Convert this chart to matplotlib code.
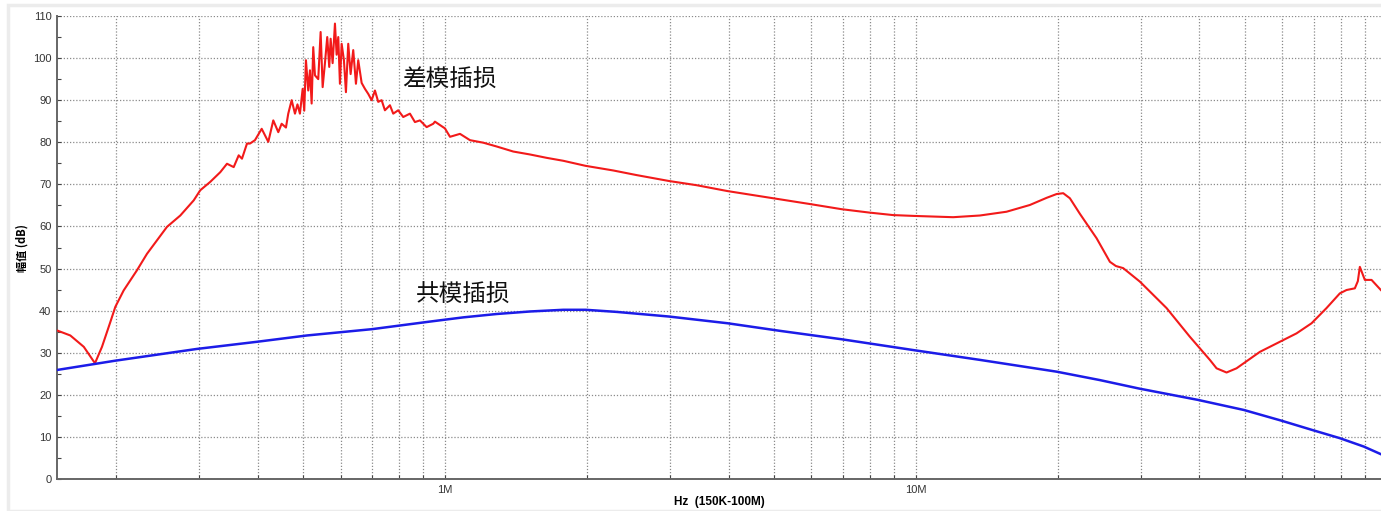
import matplotlib
matplotlib.use("Agg")
import matplotlib.pyplot as plt
from matplotlib.patches import Rectangle
from matplotlib.ticker import FixedLocator, NullFormatter, MultipleLocator

# differential mode insertion loss (kHz, dB)
dm_freq_khz = [
    150.0, 160.1, 171.0, 180.6, 186.9, 194.7, 199.5, 207.8, 221.8, 232.9,
    256.8, 274.1, 292.7, 302.2, 317.4, 333.3, 344.4, 355.9, 364.7, 370.6,
    379.8, 385.4, 394.9, 408.1, 421.5, 431.9, 442.6, 449.9, 459.5, 464.7,
    472.5, 480.2, 486.1, 492.0, 498.6, 502.5, 506.7, 512.4, 516.7, 521.0,
    525.1, 529.5, 538.1, 544.4, 549.8, 556.0, 562.3, 567.8, 571.7, 577.3,
    583.9, 588.7, 593.4, 598.3, 603.3, 610.1, 616.1, 623.1, 630.4, 638.5,
    647.0, 654.3, 665.3, 676.1, 687.1, 698.6, 710.0, 721.5, 733.6, 745.5,
    764.0, 776.4, 795.6, 815.3, 842.5, 863.3, 884.7, 914.2, 944.2, 952.0,
    975.6, 999.7, 1024.8, 1076.1, 1130.0, 1206.1, 1287.3, 1396.4, 1515.5,
    1644.2, 1783.5, 1989.0, 2277.0, 2553.0, 2989.4, 3422.7, 3982.9, 4977.6,
    5976.2, 6955.2, 7958.8, 8948.4, 9917.2, 11999.0, 13673.0, 15578.0,
    17459.0, 18948.0, 19898.0, 20551.0, 21233.0, 22298.0, 24193.0, 25821.0,
    26589.0, 27554.0, 29894.0, 34068.0, 38170.0, 42095.0, 43497.0, 45675.0,
    47963.0, 53745.0, 59272.0, 64316.0, 69218.0, 74456.0, 79481.0, 82128.0,
    85529.0, 86793.0, 87648.0, 89815.0, 92808.0, 97130.0,
]
dm_db = [
    35.3, 34.1, 31.4, 27.5, 31.4, 37.3, 40.9, 44.8, 49.6, 53.5,
    59.9, 62.6, 66.2, 68.6, 70.6, 72.9, 74.9, 74.1, 76.9, 76.1,
    79.7, 79.7, 80.5, 83.2, 80.1, 85.2, 82.4, 84.4, 83.5, 86.8,
    90.0, 86.8, 89.0, 86.8, 92.7, 87.5, 99.5, 92.3, 97.1, 89.2,
    102.6, 95.9, 95.0, 106.2, 93.1, 98.8, 105.0, 97.9, 104.6, 98.8,
    108.2, 100.8, 105.0, 93.9, 103.4, 99.5, 91.9, 103.4, 96.2, 101.9,
    93.9, 99.5, 94.1, 92.7, 91.5, 90.0, 92.3, 89.6, 90.0, 87.6,
    88.8, 86.8, 87.6, 86.0, 86.8, 84.8, 85.2, 83.6, 84.4, 84.9,
    84.1, 83.3, 81.3, 82.0, 80.5, 79.9, 79.0, 77.8, 77.1,
    76.3, 75.6, 74.4, 73.3, 72.2, 70.8, 69.8, 68.4, 66.7,
    65.3, 64.1, 63.3, 62.7, 62.5, 62.2, 62.6, 63.5,
    65.1, 66.8, 67.7, 67.9, 66.7, 63.0, 57.2, 51.6,
    50.6, 50.1, 46.9, 40.6, 33.8, 28.3, 26.3, 25.3,
    26.3, 30.2, 32.6, 34.6, 37.0, 40.6, 44.1, 44.9,
    45.3, 47.0, 50.4, 47.3, 47.3, 44.9,
]

# common mode insertion loss (kHz, dB)
cm_freq_khz = [
    150.0, 199.2, 297.3, 398.8, 509.2, 700.0, 929.0, 1093.5, 1287.3, 1515.5,
    1783.5, 1989.0, 2315.2, 2989.4, 3982.9, 5143.4, 6955.2, 9917.2, 13673.0,
    19898.0, 24587.0, 29750.0, 39690.0, 49710.0, 59560.0, 69660.0, 79480.0,
    89380.0, 97130.0,
]
cm_db = [
    25.9, 28.1, 30.9, 32.6, 34.1, 35.6, 37.4, 38.4, 39.2, 39.8,
    40.2, 40.2, 39.7, 38.6, 37.0, 35.2, 33.2, 30.6, 28.3,
    25.5, 23.5, 21.5, 18.8, 16.4, 13.9, 11.6, 9.7,
    7.7, 5.9,
]

major_ticks = [1e6, 1e7]
major_labels = ["1M", "10M"]
grid_ticks = [2e5, 3e5, 4e5, 5e5, 6e5, 7e5, 8e5, 9e5, 1e6,
              2e6, 3e6, 4e6, 5e6, 6e6, 7e6, 8e6, 9e6, 1e7,
              2e7, 3e7, 4e7, 5e7, 6e7, 7e7, 8e7, 9e7]

plt.rcParams['font.family'] = ['Liberation Sans', 'Noto Sans CJK SC', 'DejaVu Sans']

fig = plt.figure(figsize=(13.81, 5.11), dpi=100)
# light panel frame behind everything
fig.patches.append(Rectangle((8 / 1381, 0), 1.0, 506 / 511, transform=fig.transFigure,
                             facecolor="white", edgecolor="#ececec", linewidth=2.5, zorder=-10))
ax = fig.add_axes([57 / 1381, 32 / 511, 1324 / 1381, 463 / 511])
ax.set_facecolor("none")

ax.plot([f * 1e3 for f in dm_freq_khz], dm_db, color="#f21a1a", linewidth=1.5, zorder=3)
ax.plot([f * 1e3 for f in cm_freq_khz], cm_db, color="#1c1ce8", linewidth=1.8, zorder=3)

ax.set_xscale("log")
ax.set_xlim(150e3, 97.2e6)
ax.set_ylim(0, 110)

ax.xaxis.set_major_locator(FixedLocator(major_ticks))
ax.set_xticklabels(major_labels)
ax.xaxis.set_minor_locator(FixedLocator(grid_ticks))
ax.xaxis.set_minor_formatter(NullFormatter())
ax.yaxis.set_major_locator(MultipleLocator(10))
ax.yaxis.set_minor_locator(MultipleLocator(5))

ax.grid(True, which="both", axis="x", linestyle=(0, (1, 1.5)), color="#8a8a8a", linewidth=0.9)
ax.grid(True, which="major", axis="y", linestyle=(0, (1, 1.5)), color="#8a8a8a", linewidth=0.9)

ax.tick_params(axis="both", which="both", direction="in", length=3, width=0.8,
               colors="#444444", labelsize=8, labelcolor="#333333")
ax.tick_params(axis="x", pad=4)
ax.tick_params(axis="y", pad=4)

for side in ("top", "right"):
    ax.spines[side].set_visible(False)
for side in ("left", "bottom"):
    ax.spines[side].set_color("#666666")
    ax.spines[side].set_linewidth(1.4)

ax.set_ylabel("幅值 (dB)", fontsize=8, fontweight="bold",
              family=["Noto Sans CJK SC", "Liberation Sans"], labelpad=3)
ax.set_xlabel("Hz  (150K-100M)", fontsize=8.5, fontweight="bold", labelpad=1)

ax.text(0.81e6, 94.8, "差模插损", fontsize=17, va="center", ha="left",
        family=["Noto Sans CJK SC"], color="#111111", zorder=4)
ax.text(0.868e6, 43.7, "共模插损", fontsize=17, va="center", ha="left",
        family=["Noto Sans CJK SC"], color="#111111", zorder=4)

fig.savefig("out.png", dpi=100)
